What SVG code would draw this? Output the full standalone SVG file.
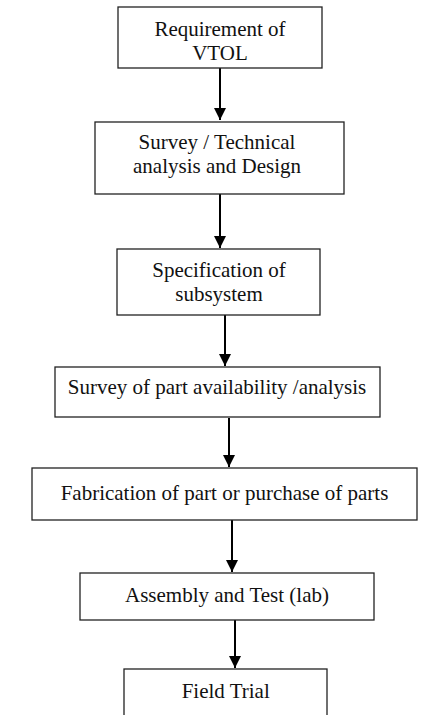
<svg xmlns="http://www.w3.org/2000/svg" width="440" height="715" viewBox="0 0 440 715">
<defs>
<style>
.box{fill:#fff;stroke:#222;stroke-width:1.3}
.lbl{font-family:"Liberation Serif","Times New Roman",serif;font-size:21px;fill:#111;text-anchor:middle}
.arr{stroke:#000;stroke-width:2;fill:none}
</style>
<marker id="ah" markerUnits="userSpaceOnUse" viewBox="0 0 12 12" refX="12" refY="6" markerWidth="12" markerHeight="12" orient="auto">
<path d="M0,0 L12,6 L0,12 Z" fill="#000"/>
</marker>
</defs>
<rect width="440" height="715" fill="#fff"/>
<g id="connectors">
<line class="arr" x1="220" y1="68" x2="220" y2="120" marker-end="url(#ah)"/>
<line class="arr" x1="220" y1="194" x2="220" y2="248" marker-end="url(#ah)"/>
<line class="arr" x1="225" y1="315" x2="225" y2="366" marker-end="url(#ah)"/>
<line class="arr" x1="229" y1="418" x2="229" y2="467" marker-end="url(#ah)"/>
<line class="arr" x1="232" y1="520" x2="232" y2="572" marker-end="url(#ah)"/>
<line class="arr" x1="235" y1="620" x2="235" y2="668" marker-end="url(#ah)"/>
</g>
<g id="n1">
<rect class="box" x="118" y="7" width="204" height="61"/>
<text class="lbl" x="220" y="36">Requirement of</text>
<text class="lbl" x="220" y="60">VTOL</text>
</g>
<g id="n2">
<rect class="box" x="95" y="122" width="249" height="72"/>
<text class="lbl" x="217" y="149">Survey / Technical</text>
<text class="lbl" x="217" y="173">analysis and Design</text>
</g>
<g id="n3">
<rect class="box" x="117" y="249" width="203" height="66"/>
<text class="lbl" x="219" y="277">Specification of</text>
<text class="lbl" x="219" y="301">subsystem</text>
</g>
<g id="n4">
<rect class="box" x="55" y="367" width="325" height="50"/>
<text class="lbl" x="217" y="394">Survey of part availability /analysis</text>
</g>
<g id="n5">
<rect class="box" x="32" y="468" width="385" height="52"/>
<text class="lbl" x="224.5" y="500">Fabrication of part or purchase of parts</text>
</g>
<g id="n6">
<rect class="box" x="80" y="573" width="294" height="47"/>
<text class="lbl" x="227" y="602">Assembly and Test (lab)</text>
</g>
<g id="n7">
<rect class="box" x="124" y="669" width="203" height="60"/>
<text class="lbl" x="225.7" y="698">Field Trial</text>
</g>
</svg>
